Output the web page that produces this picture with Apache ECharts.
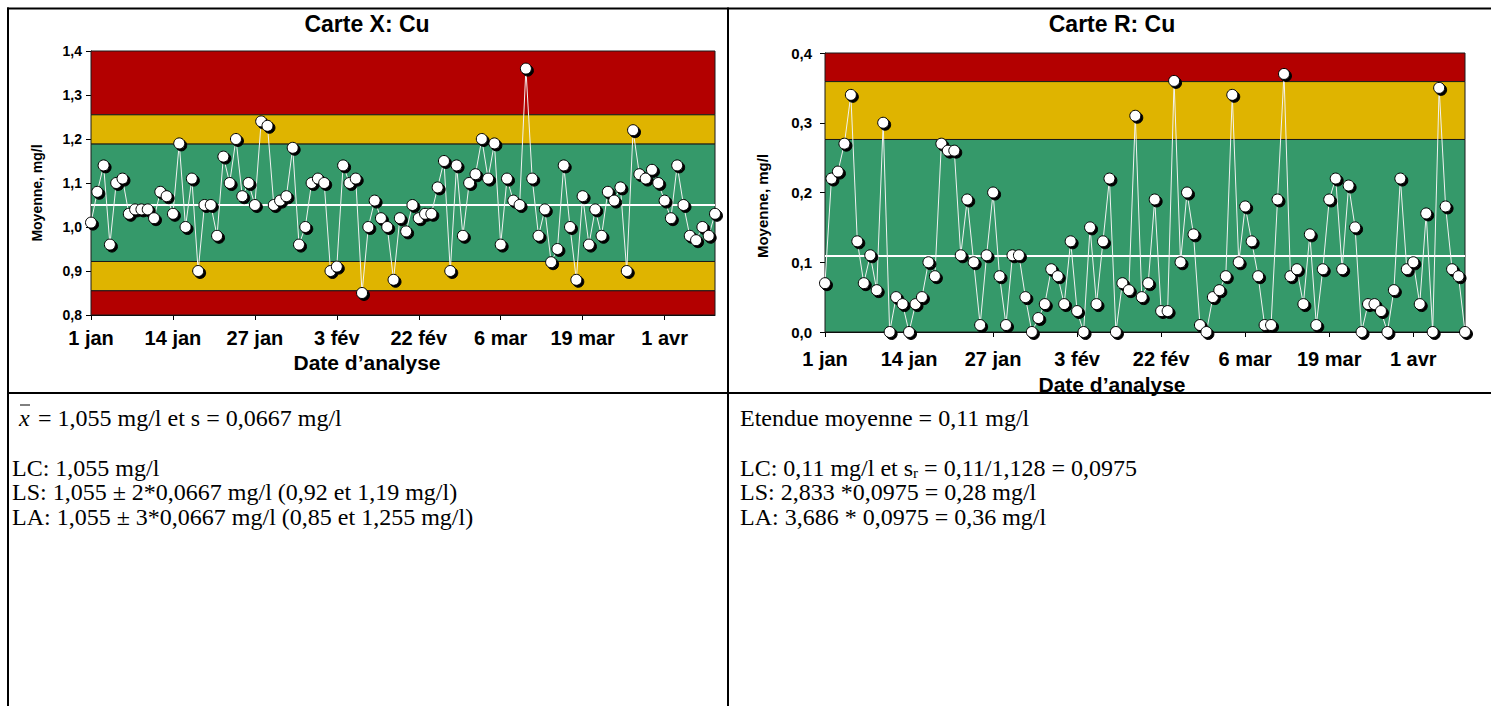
<!DOCTYPE html>
<html><head><meta charset="utf-8">
<script src="https://cdn.jsdelivr.net/npm/echarts@6/dist/echarts.min.js"></script>
<style>html,body{margin:0;padding:0;background:#fff;overflow:hidden}#c{width:1491px;height:706px}</style>
</head><body><div id="c"></div>
<script>
// ---- data ----
const tickLabels = ['1 jan','14 jan','27 jan','3 fév','22 fév','6 mar','19 mar','1 avr'];
const tickStep = 13;
const xValues = [1.01,1.08,1.14,0.96,1.10,1.11,1.03,1.04,1.04,1.04,
  1.02,1.08,1.07,1.03,1.19,1.00,1.11,0.90,1.05,1.05,
  0.98,1.16,1.10,1.20,1.07,1.10,1.05,1.24,1.23,1.05,
  1.06,1.07,1.18,0.96,1.00,1.10,1.11,1.10,0.90,0.91,
  1.14,1.10,1.11,0.85,1.00,1.06,1.02,1.00,0.88,1.02,
  0.99,1.05,1.02,1.03,1.03,1.09,1.15,0.90,1.14,0.98,
  1.10,1.12,1.20,1.11,1.19,0.96,1.11,1.06,1.05,1.36,
  1.11,0.98,1.04,0.92,0.95,1.14,1.00,0.88,1.07,0.96,
  1.04,0.98,1.08,1.06,1.09,0.90,1.22,1.12,1.11,1.13,
  1.10,1.06,1.02,1.14,1.05,0.98,0.97,1.00,0.98,1.03];
const rValues = [0.07,0.22,0.23,0.27,0.34,0.13,0.07,0.11,0.06,0.30,
  0.00,0.05,0.04,0.00,0.04,0.05,0.10,0.08,0.27,0.26,
  0.26,0.11,0.19,0.10,0.01,0.11,0.20,0.08,0.01,0.11,
  0.11,0.05,0.00,0.02,0.04,0.09,0.08,0.04,0.13,0.03,
  0.00,0.15,0.04,0.13,0.22,0.00,0.07,0.06,0.31,0.05,
  0.07,0.19,0.03,0.03,0.36,0.10,0.20,0.14,0.01,0.00,
  0.05,0.06,0.08,0.34,0.10,0.18,0.13,0.08,0.01,0.01,
  0.19,0.37,0.08,0.09,0.04,0.14,0.01,0.09,0.19,0.22,
  0.09,0.21,0.15,0.00,0.04,0.04,0.03,0.00,0.06,0.22,
  0.09,0.10,0.04,0.17,0.00,0.35,0.18,0.09,0.08,0.00];
const categories = xValues.map((v, i) => String(i + 1));
const xLimits = {lc: 1.055, ls: [0.9216, 1.1884], la: [0.855, 1.255], min: 0.8, max: 1.4};
const rLimits = {lc: 0.11, ls: 0.276, la: 0.359, min: 0, max: 0.4};

// ---- styles ----
const RED = '#b30000', YEL = '#dfb400', GRN = '#35996a';
const sans = 'Arial, "Liberation Sans", sans-serif';
const serif = '"Liberation Serif", "Times New Roman", serif';

function band(lo, hi, color) {
  return [{yAxis: lo, itemStyle: {color: color, borderColor: '#1a1a1a', borderWidth: 1}}, {yAxis: hi}];
}
const showTick = (i) => i % tickStep === 0;
function xAxisCfg(gi, margin) {
  return {type: 'category', gridIndex: gi, data: categories, boundaryGap: false,
    axisLine: {lineStyle: {color: '#000', width: 1}},
    axisTick: {show: true, interval: showTick, length: 5, lineStyle: {color: '#000'}},
    axisLabel: {interval: showTick, margin: margin, color: '#000', fontFamily: sans, fontWeight: 'bold', fontSize: 20,
      formatter: (v, i) => tickLabels[Math.round(i / tickStep)] || ''},
    splitLine: {show: false}};
}
function yAxisCfg(gi, min, max, margin, fs, dec) {
  return {type: 'value', gridIndex: gi, min: min, max: max, interval: 0.1,
    axisLine: {show: true, lineStyle: {color: '#000'}},
    axisTick: {show: true, length: 5, lineStyle: {color: '#000'}},
    axisLabel: {margin: margin, color: '#000', fontFamily: sans, fontWeight: 'bold', fontSize: fs,
      formatter: v => v.toFixed(dec).replace('.', ',')},
    splitLine: {show: false}};
}
function seriesCfg(gi, data, bands, mean, size) {
  return {type: 'line', xAxisIndex: gi, yAxisIndex: gi, data: data, symbol: 'circle', symbolSize: size,
    showAllSymbol: true, animation: false, z: 5,
    lineStyle: {color: '#f2f2f2', width: 1},
    itemStyle: {color: '#fff', borderColor: '#000', borderWidth: 1, shadowColor: '#000', shadowOffsetX: 2, shadowOffsetY: 2, shadowBlur: 0},
    emphasis: {disabled: true},
    markArea: {silent: true, z: 1, data: bands},
    markLine: {silent: true, symbol: 'none', label: {show: false}, z: 2,
      lineStyle: {color: '#fff', width: 2, type: 'solid'}, data: [{yAxis: mean}]}};
}

// ---- text blocks ----
const F = '24px ' + serif;
const g = [];
function rect(x, y, w, h) { g.push({type: 'rect', shape: {x, y, width: w, height: h}, style: {fill: '#000'}, silent: true}); }
function txt(t, x, y, font, align, extra) {
  g.push(Object.assign({type: 'text', x: x, y: y, silent: true,
    style: {text: t, font: font, fill: '#000', textAlign: align || 'left', textVerticalAlign: 'middle'}}, extra || {}));
}
// table lines
rect(7, 7.5, 1484, 2);
rect(7, 7.5, 2, 699);
rect(727, 7.5, 2, 699);
rect(7, 392, 1484, 2);
// titles and axis names
txt('Carte X: Cu', 367, 24, 'bold 23px ' + sans, 'center');
txt('Carte R: Cu', 1112, 24, 'bold 23px ' + sans, 'center');
txt('Date d\u2019analyse', 367, 362, 'bold 21px ' + sans, 'center');
txt('Date d\u2019analyse', 1112, 384, 'bold 21px ' + sans, 'center');
txt('Moyenne, mg/l', 37, 193, 'bold 14px ' + sans, 'center', {rotation: Math.PI / 2});
txt('Moyenne, mg/l', 762, 206, 'bold 15px ' + sans, 'center', {rotation: Math.PI / 2});
// left notes
txt('x', 19, 418, 'italic ' + F, 'left');
g.push({type: 'line', shape: {x1: 20, y1: 405, x2: 30, y2: 405}, style: {stroke: '#000', lineWidth: 1}, silent: true});
txt('= 1,055 mg/l et s = 0,0667 mg/l', 38, 418, F);
txt('LC: 1,055 mg/l', 12, 468, F);
txt('LS: 1,055 \u00b1 2*0,0667 mg/l (0,92 et 1,19 mg/l)', 12, 492, F);
txt('LA: 1,055 \u00b1 3*0,0667 mg/l (0,85 et 1,255 mg/l)', 12, 517, F);
// right notes
txt('Etendue moyenne = 0,11 mg/l', 740, 418, F);
g.push({type: 'text', x: 740, y: 468, silent: true,
  style: {text: '{a|LC: 0,11 mg/l et s}{b|r}{a| = 0,11/1,128 = 0,0975}', fill: '#000',
    textAlign: 'left', textVerticalAlign: 'middle',
    rich: {a: {fontFamily: serif, fontSize: 24, lineHeight: 24, fill: '#000'},
           b: {fontFamily: serif, fontSize: 15, lineHeight: 9, verticalAlign: 'bottom', fill: '#000'}}}});
txt('LS: 2,833 *0,0975 = 0,28 mg/l', 740, 492, F);
txt('LA: 3,686 * 0,0975 = 0,36 mg/l', 740, 517, F);

const chart = echarts.init(document.getElementById('c'), null, {renderer: 'svg'});
chart.setOption({
  animation: false,
  backgroundColor: '#fff',
  grid: [
    {left: 91, top: 51, width: 624, height: 264, outerBoundsMode: 'none', containLabel: false},
    {left: 825, top: 53, width: 640, height: 279, outerBoundsMode: 'none', containLabel: false}
  ],
  xAxis: [xAxisCfg(0, 13), xAxisCfg(1, 17)],
  yAxis: [yAxisCfg(0, xLimits.min, xLimits.max, 9, 14, 1), yAxisCfg(1, rLimits.min, rLimits.max, 13, 15, 1)],
  series: [
    seriesCfg(0, xValues, [
      band(xLimits.la[1], xLimits.max, RED), band(xLimits.ls[1], xLimits.la[1], YEL),
      band(xLimits.ls[0], xLimits.ls[1], GRN), band(xLimits.la[0], xLimits.ls[0], YEL),
      band(xLimits.min, xLimits.la[0], RED)], xLimits.lc, 11),
    seriesCfg(1, rValues, [
      band(rLimits.la, rLimits.max, RED), band(rLimits.ls, rLimits.la, YEL),
      band(rLimits.min, rLimits.ls, GRN)], rLimits.lc, 11)
  ],
  graphic: g
});
</script></body></html>
